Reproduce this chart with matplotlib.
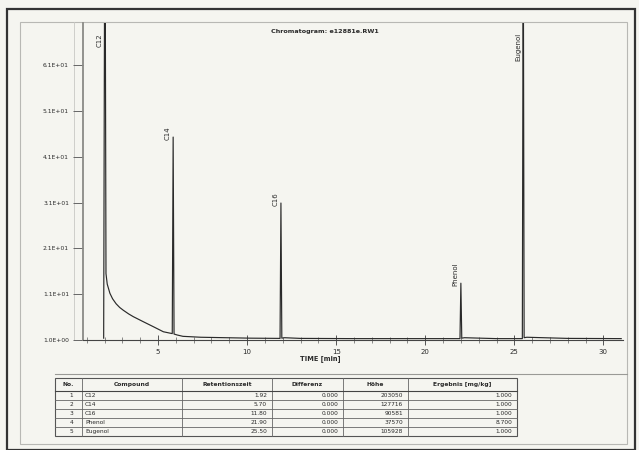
import matplotlib
matplotlib.use("Agg")
import matplotlib.pyplot as plt
from matplotlib.patches import Rectangle
import numpy as np

# ---- data ----
trace_time = [1.95, 2.0, 2.04, 2.08, 2.15, 2.3, 2.45, 2.65, 2.85, 3.05, 3.35, 3.61, 4.17, 4.74,
              5.30, 5.67, 5.80, 5.85, 5.90, 6.07, 6.4, 7.4, 10.2, 11.85, 11.9, 11.95, 12.1,
              13.0, 16.0, 20.0, 21.95, 22.0, 22.05, 22.2, 24.0, 25.45, 25.5, 25.55, 25.7,
              28.0, 31.0]
trace_signal = [1.4, 78, 78, 15.5, 13.2, 11.2, 10.0, 8.9, 8.1, 7.5, 6.7, 6.1, 5.0, 3.9,
                2.8, 2.5, 2.4, 45.3, 2.3, 2.1, 1.8, 1.6, 1.4, 1.35, 30.9, 1.4, 1.5,
                1.35, 1.3, 1.3, 1.3, 13.4, 1.4, 1.5, 1.3, 1.3, 95, 1.5, 1.6, 1.35, 1.3]
peak_names = ["C12", "C14", "C16", "Phenol", "Eugenol"]
peak_times = [2.02, 5.85, 11.9, 22.0, 25.5]

y_ticks = [1, 11, 21, 31, 41, 51, 61]
y_tick_labels = ["1.0E+00", "1.1E+01", "2.1E+01", "3.1E+01", "4.1E+01", "5.1E+01", "6.1E+01"]
x_ticks = [5, 10, 15, 20, 25, 30]

table_header = ["No.", "Compound", "Retentionszeit", "Differenz", "Höhe", "Ergebnis [mg/kg]"]
table_no = ["1", "2", "3", "4", "5"]
table_compound = ["C12", "C14", "C16", "Phenol", "Eugenol"]
table_rt = ["1.92", "5.70", "11.80", "21.90", "25.50"]
table_diff = ["0.000", "0.000", "0.000", "0.000", "0.000"]
table_height = ["203050", "127716", "90581", "37570", "105928"]
table_result = ["1.000", "1.000", "1.000", "8.700", "1.000"]

title = "Chromatogram: e12881e.RW1"
xlabel = "TIME [min]"

# ---- figure ----
W, H = 639, 450
fig = plt.figure(figsize=(W / 100, H / 100), dpi=100)
bg = "#f5f5f0"
fig.patch.set_facecolor(bg)
ink = "#2a2a2a"

# overlay in pixel coordinates
ov = fig.add_axes([0, 0, 1, 1], zorder=0)
ov.set_xlim(0, W)
ov.set_ylim(H, 0)
ov.axis("off")
ov.patch.set_alpha(0)
ov.add_patch(Rectangle((7, 9), 628, 441, fill=False, ec="#333333", lw=1.6))
ov.add_patch(Rectangle((20, 22), 607, 422, fill=False, ec="#b8b8b4", lw=0.8))
ov.plot([55, 627], [374, 374], color="#9a9a96", lw=0.8)
ov.plot([74, 74], [22, 340], color="#c8c8c4", lw=0.6)

# main chromatogram axes
x0, x1, ytop, ybot = 83, 623, 23, 340
ax = fig.add_axes([x0 / W, 1 - ybot / H, (x1 - x0) / W, (ybot - ytop) / H], zorder=1)
ax.patch.set_alpha(0)
ymin, ymax = 1.0, 70.2
ax.set_xlim(0.79, 31.1)
ax.set_ylim(ymin, ymax)
ax.plot(trace_time, trace_signal, color=ink, lw=0.85, clip_on=True)

for sp in ["top", "right"]:
    ax.spines[sp].set_visible(False)
ax.spines["left"].set_color("#8a8a86")
ax.spines["left"].set_linewidth(1.3)
ax.spines["bottom"].set_color("#444444")
ax.spines["bottom"].set_linewidth(0.8)

ax.set_xticks(x_ticks)
ax.set_xticklabels([str(t) for t in x_ticks], fontsize=5, color=ink)
ax.set_xticks(np.arange(1, 31, 1), minor=True)
ax.tick_params(axis="x", which="major", direction="inout", length=7, width=0.7, color="#555555", pad=3)
ax.tick_params(axis="x", which="minor", direction="inout", length=5, width=0.6, color="#777777")
ax.set_yticks(y_ticks)
ax.set_yticklabels(y_tick_labels, fontsize=4.3, color=ink)
ax.tick_params(axis="y", direction="out", length=7, width=0.7, color="#666666", pad=3)
ax.set_xlabel(xlabel, fontsize=4.8, color=ink, fontweight="bold", labelpad=0, x=0.44)

tt = np.array(trace_time)
ss = np.array(trace_signal)
for name, rt in zip(peak_names, peak_times):
    h = ss[np.abs(tt - rt) < 0.12].max()
    if h > ymax:
        ax.annotate(name, (rt, ymax - 2.2), xytext=(-1.5, 0), textcoords="offset points",
                    rotation=90, ha="right", va="top", fontsize=5, color=ink)
    else:
        ax.annotate(name, (rt, h - 0.6), xytext=(-1.5, 0), textcoords="offset points",
                    rotation=90, ha="right", va="bottom", fontsize=5, color=ink)

ov.text(325, 31, title, fontsize=4.6, fontweight="bold", color=ink, ha="center", va="center")

# ---- table (pixel coordinates) ----
cols = [55, 82, 182, 272, 343, 408, 517]
rows = [378, 391, 400, 409, 418, 427, 436]
tab = fig.add_axes([0, 0, 1, 1], zorder=2)
tab.set_xlim(0, W)
tab.set_ylim(H, 0)
tab.axis("off")
tab.patch.set_alpha(0)
tab.add_patch(Rectangle((cols[0], rows[0]), cols[-1] - cols[0], rows[-1] - rows[0],
                        fill=False, ec="#555555", lw=0.8))
for c in cols[1:-1]:
    tab.plot([c, c], [rows[0], rows[-1]], color="#666666", lw=0.6)
for r in rows[1:-1]:
    tab.plot([cols[0], cols[-1]], [r, r], color="#666666", lw=0.6)
tab.plot([cols[0], cols[-1]], [rows[1], rows[1]], color="#444444", lw=0.8)

for i, htxt in enumerate(table_header):
    tab.text((cols[i] + cols[i + 1]) / 2, (rows[0] + rows[1]) / 2, htxt, fontsize=4.3,
             fontweight="bold", ha="center", va="center", color=ink)

columns = [table_no, table_compound, table_rt, table_diff, table_height, table_result]
for j in range(len(table_no)):
    yc = (rows[j + 1] + rows[j + 2]) / 2
    for i, col in enumerate(columns):
        if i == 0:
            tab.text((cols[0] + cols[1]) / 2 + 3, yc, col[j], fontsize=4.2, ha="center", va="center", color=ink)
        elif i == 1:
            tab.text(cols[1] + 3, yc, col[j], fontsize=4.2, ha="left", va="center", color=ink)
        else:
            tab.text(cols[i + 1] - 5, yc, col[j], fontsize=4.2, ha="right", va="center", color=ink)

fig.savefig("out.png", dpi=100, facecolor=bg)
